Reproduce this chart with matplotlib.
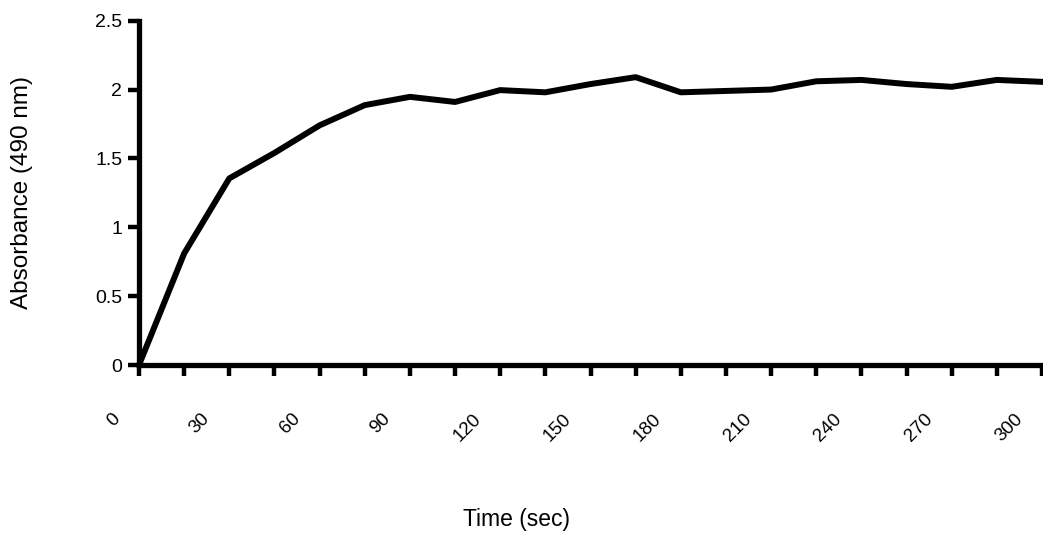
import numpy as np
import matplotlib
matplotlib.use('Agg')
import matplotlib.pyplot as plt
import matplotlib.transforms as mtransforms

plt.rcParams['font.family'] = ['Liberation Sans', 'DejaVu Sans']

time_sec = [0, 15, 30, 45, 60, 75, 90, 105, 120, 135, 150,
            165, 180, 195, 210, 225, 240, 255, 270, 285, 300]
absorbance = [0.0, 0.81, 1.355, 1.54, 1.74, 1.887, 1.947, 1.91, 1.996, 1.98, 2.04,
              2.09, 1.98, 1.99, 2.0, 2.06, 2.07, 2.04, 2.02, 2.07, 2.056]

x_labels = ['0', '30', '60', '90', '120', '150', '180', '210', '240', '270', '300']
y_ticks = [0, 0.5, 1, 1.5, 2, 2.5]
y_labels = ['0', '0.5', '1', '1.5', '2', '2.5']

fig = plt.figure(figsize=(10.43, 5.35), dpi=100)
ax = fig.add_axes([139 / 1043, (535 - 365) / 535, (1042 - 139) / 1043, (365 - 20.7) / 535])

ax.plot(time_sec, absorbance, color='black', lw=4.3, clip_on=False, zorder=3)

ax.set_xlim(0, 300)
ax.set_ylim(0, 2.5)

for s in ['top', 'right']:
    ax.spines[s].set_visible(False)
for s in ['left', 'bottom']:
    ax.spines[s].set_linewidth(3.8)

ax.set_xticks(np.arange(0, 301, 30))
ax.set_xticks(np.arange(0, 301, 15), minor=True)
ax.set_xticklabels(x_labels, rotation=45, ha='right', va='center',
                   rotation_mode='anchor', fontsize=13.5)
ax.set_yticks(y_ticks)
ax.set_yticklabels(y_labels, fontsize=14)

ax.tick_params(axis='x', which='both', direction='out', length=8, width=3.2)
ax.tick_params(axis='x', which='major', pad=29)
ax.tick_params(axis='y', direction='out', length=8, width=3.2, pad=4)

# shift the rotated labels left like the original
offset = mtransforms.ScaledTranslation(-22 / 100, 0, fig.dpi_scale_trans)
for lab in ax.get_xticklabels():
    lab.set_transform(lab.get_transform() + offset)

ax.set_xlabel('Time (sec)', fontsize=16.5, va='center')
ax.xaxis.set_label_coords(0.4175, -0.45)
ax.set_ylabel('Absorbance (490 nm)', fontsize=17.5, va='center')
ax.yaxis.set_label_coords(-0.1296, 0.5)

fig.savefig('out.png', dpi=100)
